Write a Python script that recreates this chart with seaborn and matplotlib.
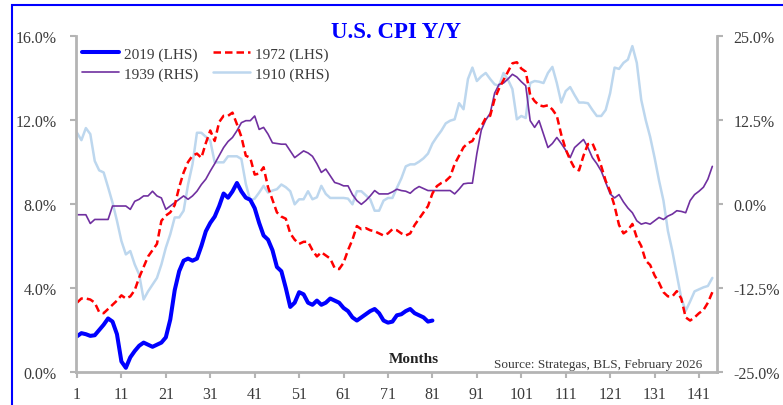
import numpy as np
import pandas as pd
import seaborn as sns
import matplotlib.pyplot as plt
from matplotlib.patches import Rectangle
from matplotlib.ticker import FuncFormatter

# CPI year-over-year (%), months since start of each episode
cpi_2019 = [1.7, 1.85, 1.8, 1.72, 1.75, 2.0, 2.25, 2.55, 2.4, 1.8,
            0.5, 0.2, 0.7, 1.0, 1.25, 1.4, 1.3, 1.2, 1.3, 1.4,
            1.65, 2.5, 3.9, 4.8, 5.3, 5.4, 5.3, 5.4, 6.0, 6.7,
            7.1, 7.4, 7.9, 8.5, 8.3, 8.6, 9.0, 8.6, 8.3, 8.2,
            7.8, 7.1, 6.5, 6.3, 5.8, 5.0, 4.8, 4.0, 3.1, 3.3,
            3.8, 3.7, 3.3, 3.2, 3.4, 3.2, 3.3, 3.5, 3.4, 3.3,
            3.05, 2.9, 2.6, 2.45, 2.6, 2.75, 2.9, 3.0, 2.8, 2.45,
            2.35, 2.4, 2.7, 2.75, 2.9, 3.0, 2.8, 2.7, 2.6, 2.4, 2.45]

cpi_1972 = [3.3, 3.5, 3.5, 3.45, 3.3, 2.85, 2.8, 3.0, 3.2, 3.4,
            3.65, 3.5, 3.6, 3.9, 4.5, 5.0, 5.5, 5.8, 6.1, 7.2,
            7.45, 7.6, 7.95, 8.8, 9.5, 10.0, 10.3, 10.4, 10.2, 10.9,
            11.5, 11.0, 11.9, 12.2, 12.2, 12.35, 11.8, 11.2, 10.3, 10.2,
            9.4, 9.45, 9.75, 8.8, 8.2, 7.6, 7.4, 7.3, 6.6, 6.3,
            6.1, 6.2, 6.2, 5.8, 5.5, 5.7, 5.55, 5.4, 4.95, 4.9,
            5.2, 5.8, 6.3, 6.95, 6.8, 6.85, 6.75, 6.7, 6.6, 6.5,
            6.6, 6.8, 6.75, 6.6, 6.5, 6.6, 7.0, 7.3, 7.6, 7.9,
            8.5, 8.85, 9.0, 9.1, 9.3, 9.9, 10.3, 10.7, 10.9, 11.0,
            11.4, 11.7, 12.1, 12.2, 13.0, 13.5, 13.9, 14.3, 14.7, 14.75,
            14.45, 14.3, 13.2, 12.9, 12.7, 12.65, 12.7, 12.5, 12.2, 11.3,
            10.6, 10.1, 9.7, 9.6, 10.3, 10.85, 10.9, 10.4, 9.8, 9.1,
            8.6, 7.9, 7.0, 6.6, 6.75, 7.05, 6.4, 6.0, 5.3, 5.1,
            4.6, 4.25, 3.8, 3.6, 3.6, 3.85, 3.5, 2.6, 2.45, 2.6,
            2.8, 2.95, 3.3, 3.8]

cpi_1939 = [-1.6, -1.6, -1.6, -2.9, -2.3, -2.3, -2.3, -2.3, -0.3, -0.3,
            -0.3, -0.3, -0.8, 0.4, 0.7, 1.2, 1.2, 1.9, 1.2, 0.9,
            -0.8, -0.3, 0.2, 0.7, 1.2, 0.7, 1.2, 1.9, 2.9, 3.7,
            4.9, 6.0, 7.2, 8.4, 9.3, 9.9, 10.9, 12.1, 12.4, 12.4,
            13.1, 11.1, 11.4, 10.4, 9.1, 9.0, 8.9, 8.9, 7.9, 6.9,
            7.4, 7.9, 7.6, 7.1, 6.0, 4.7, 5.2, 4.2, 3.2, 3.0,
            2.7, 2.7, 1.4, 0.5, -0.05, 0.5, 1.2, 2.0, 1.5, 1.5,
            1.5, 1.8, 2.2, 2.0, 1.9, 1.6, 2.2, 2.6, 2.3, 2.0,
            2.0, 2.0, 2.0, 2.0, 2.0, 1.5, 2.2, 3.0, 3.1, 3.1,
            7.5, 11.0, 12.5, 13.5, 16.5, 17.8, 18.0, 18.6, 19.3, 18.9,
            18.2, 17.6, 12.4, 11.4, 12.4, 10.4, 8.4, 9.0, 9.9, 9.0,
            8.0, 6.9, 8.4, 9.0, 9.6, 8.4, 6.9, 6.0, 4.9, 3.2,
            1.5, 0.9, 1.4, 0.3, -0.6, -1.3, -2.5, -3.0, -2.8, -3.0,
            -2.5, -2.0, -2.3, -1.8, -1.5, -1.0, -1.1, -1.3, 0.5, 1.4,
            1.9, 2.5, 3.7, 5.6]

cpi_1910 = [10.6, 9.5, 11.3, 10.4, 6.4, 5.0, 4.7, 2.5, 0.2, -2.5,
            -5.5, -7.5, -7.0, -9.0, -10.5, -14.2, -13.0, -12.0, -11.0, -9.0,
            -6.5, -4.5, -2.0, -2.0, -1.0, 2.9, 5.9, 10.6, 10.6, 10.0,
            9.4, 6.2, 6.2, 6.2, 7.1, 7.1, 7.1, 6.7, 3.0, 0.5,
            0.8, 1.7, 2.7, 1.7, 2.0, 2.2, 2.9, 2.5, 1.9, -0.05,
            0.7, 0.7, 1.9, 0.7, 1.0, 2.7, 1.5, 0.9, 0.9, 0.9,
            0.9, 0.8, -0.05, 1.9, 1.9, 1.3, 0.7, -1.0, -1.0, 0.5,
            0.9, 0.9, 2.4, 3.8, 5.6, 5.9, 5.9, 6.3, 6.8, 7.5,
            9.0, 10.0, 10.9, 12.0, 12.4, 12.6, 15.0, 14.1, 18.6, 20.3,
            18.3, 19.0, 19.5, 18.6, 17.8, 17.6, 19.5, 18.5, 17.1, 12.6,
            13.1, 12.8, 18.0, 18.3, 18.2, 18.0, 19.5, 20.4, 18.0, 15.1,
            16.8, 17.4, 16.2, 15.1, 15.1, 15.0, 14.0, 13.1, 13.1, 14.0,
            16.5, 20.3, 20.1, 21.0, 21.5, 23.5, 21.0, 15.5, 12.5, 10.0,
            6.9, 3.5, 0.5, -4.0, -7.0, -10.5, -14.0, -15.9, -14.5, -13.0,
            -12.7, -12.4, -12.2, -11.0]

x_ticks = list(range(1, 145, 10))
lhs_ticks = [0, 4, 8, 12, 16]
rhs_ticks = [-25, -12.5, 0, 12.5, 25]

sns.set_style("white")
plt.rcParams['font.family'] = ['Liberation Serif', 'DejaVu Serif']

grey = '#b4b4b4'
txt = '#3a3a3a'

fig = plt.figure(figsize=(7.83, 4.06), dpi=100)
ax = fig.add_axes([76 / 783, 1 - 373 / 406, (717 - 76) / 783, (373 - 37) / 406])
ax2 = ax.twinx()

df_1910 = pd.DataFrame({'month': np.arange(1, len(cpi_1910) + 1), 'cpi': cpi_1910})
df_1939 = pd.DataFrame({'month': np.arange(1, len(cpi_1939) + 1), 'cpi': cpi_1939})
df_1972 = pd.DataFrame({'month': np.arange(1, len(cpi_1972) + 1), 'cpi': cpi_1972})
df_2019 = pd.DataFrame({'month': np.arange(1, len(cpi_2019) + 1), 'cpi': cpi_2019})

# right-hand side (older episodes)
sns.lineplot(data=df_1910, x='month', y='cpi', ax=ax2, color='#bdd7ee', lw=1.8, label='1910 (RHS)')
sns.lineplot(data=df_1939, x='month', y='cpi', ax=ax2, color='#7030a0', lw=1.2, label='1939 (RHS)')
# left-hand side
sns.lineplot(data=df_1972, x='month', y='cpi', ax=ax, color='#ff0000', lw=1.8, label='1972 (LHS)')
ax.lines[-1].set_dashes((3, 1.6))
sns.lineplot(data=df_2019, x='month', y='cpi', ax=ax, color='#0000ff', lw=2.9, label='2019 (LHS)')

# keep LHS lines above RHS lines
ax.set_zorder(ax2.get_zorder() + 1)
ax.patch.set_visible(False)

ax.set_xlim(0.78, 145.05)
ax.set_ylim(0, 16)
ax2.set_ylim(-25, 25)
ax.set_xticks(x_ticks)
ax.set_yticks(lhs_ticks)
ax2.set_yticks(rhs_ticks)
ax.yaxis.set_major_formatter(FuncFormatter(lambda v, p: f'{v:.1f}%'))
ax2.yaxis.set_major_formatter(FuncFormatter(lambda v, p: f'{v:.1f}%'))
ax.set_xlabel('')
ax.set_ylabel('')
ax2.set_ylabel('')

for a in (ax, ax2):
    a.spines['top'].set_visible(False)
    for s in ('left', 'right', 'bottom'):
        a.spines[s].set_color(grey)
        a.spines[s].set_linewidth(2)
ax.spines['right'].set_visible(False)
ax2.spines['left'].set_visible(False)
ax2.spines['bottom'].set_visible(False)

ax.tick_params(axis='y', direction='out', length=4, width=1.5, color=grey,
               labelsize=11.5, labelcolor=txt, pad=10, left=True)
ax.tick_params(axis='x', direction='out', length=4, width=1.5, color=grey,
               labelsize=11.5, labelcolor=txt, pad=6, bottom=True)
ax2.tick_params(axis='y', direction='out', length=4, width=1.5, color=grey,
                labelsize=11.5, labelcolor=txt, pad=8, right=True)

# legend with all four series
h1, l1 = ax.get_legend_handles_labels()
h2, l2 = ax2.get_legend_handles_labels()
hd = dict(zip(l1 + l2, h1 + h2))
order = ['2019 (LHS)', '1939 (RHS)', '1972 (LHS)', '1910 (RHS)']
ax2.get_legend().remove()
ax.legend([hd[k] for k in order], order, ncol=2, frameon=False, loc='upper left',
          bbox_to_anchor=(82 / 783, 1 - 48 / 406), bbox_transform=fig.transFigure,
          borderpad=0, borderaxespad=0, handlelength=2.4, handletextpad=0.35,
          columnspacing=0.95, labelspacing=0.4, fontsize=11, labelcolor=txt)

fig.text(396 / 783, 1 - 32 / 406, 'U.S. CPI Y/Y', color='#0000ff', fontsize=16.5,
         fontweight='bold', ha='center', va='center')
fig.text(414 / 783, 1 - 360 / 406, 'Months', color='#222222', fontsize=11,
         fontweight='bold', ha='center', va='center')
fig.text(702 / 783, 1 - 365 / 406, 'Source: Strategas, BLS, February 2026', color=txt,
         fontsize=9.5, ha='right', va='center')

# blue frame around the chart
fig.patches.append(Rectangle((12 / 783, -0.2), 1.5, 1.2 - 6 / 406,
                             transform=fig.transFigure, fill=False,
                             edgecolor='#0000ff', lw=1.5))

fig.savefig('out.png', dpi=100)
